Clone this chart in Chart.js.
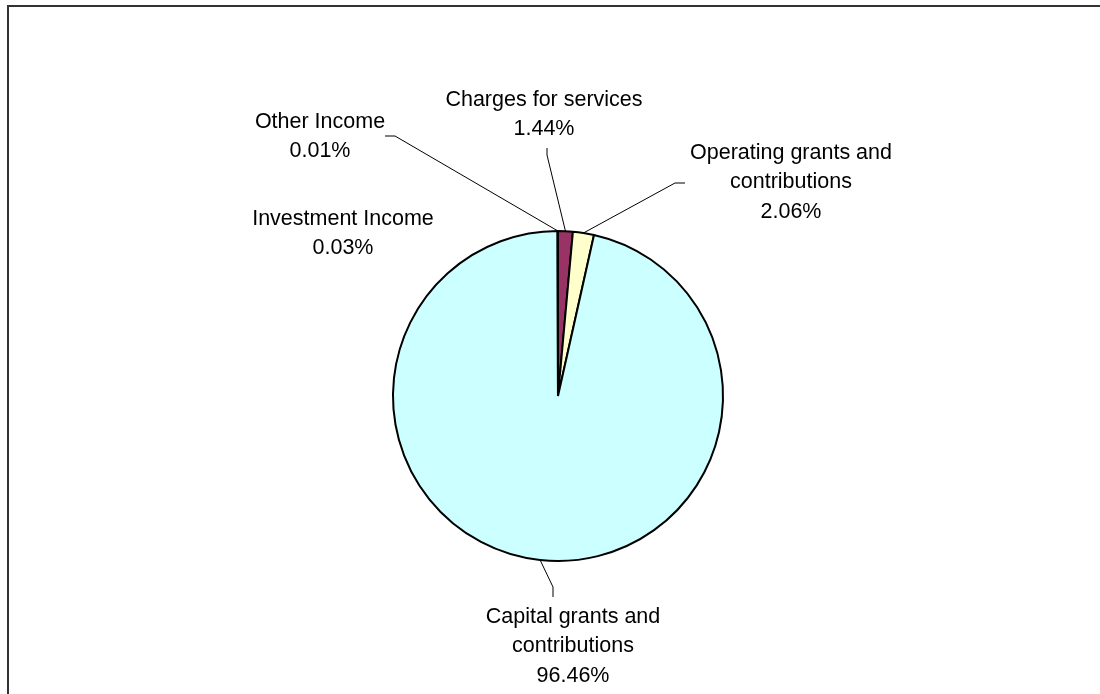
<!DOCTYPE html>
<html>
<head>
<meta charset="utf-8">
<title>Revenue sources</title>
<script src="https://cdn.jsdelivr.net/npm/chart.js@4/dist/chart.umd.min.js"></script>
<style>
  html, body { margin: 0; padding: 0; background: #fff; overflow: hidden; }
  #wrap { position: relative; width: 1100px; height: 694px; }
</style>
</head>
<body>
<div id="wrap"><canvas id="pie" width="1100" height="694"></canvas></div>
<script>
// Revenue breakdown, clockwise from 12 o'clock
const categories = [
  'Charges for services',
  'Operating grants and contributions',
  'Capital grants and contributions',
  'Investment Income',
  'Other Income',
];
const shares = [1.44, 2.06, 96.46, 0.03, 0.01];
const sliceColors = ['#993366', '#FFFFCC', '#CCFFFF', '#660066', '#FF8080'];

// Label text lines per slice (percent appended from the data)
const labelLines = [
  ['Charges for services'],
  ['Operating grants and', 'contributions'],
  ['Capital grants and', 'contributions'],
  ['Investment Income'],
  ['Other Income'],
];

const FONT = "21.5px 'Liberation Sans', Arial, sans-serif";
const LINE_H = 29.5;

// Label block centres (x, first line y) and leader elbows
const labelLayout = [
  { x: 544, y: 100, leader: [[547, 155], [547, 148]] },
  { x: 791, y: 153, leader: [[675, 183], [685, 183]] },
  { x: 573, y: 617, leader: [[553, 587], [553, 597]] },
  { x: 343, y: 219, leader: null },
  { x: 320, y: 122, leader: [[395, 136], [385, 136]] },
];

const frame = {
  id: 'frame',
  beforeDraw(chart) {
    const ctx = chart.ctx;
    ctx.save();
    ctx.strokeStyle = '#333';
    ctx.lineWidth = 2;
    ctx.strokeRect(8, 6, 1300, 900);
    ctx.restore();
  },
};

const pieLabels = {
  id: 'pieLabels',
  afterDatasetsDraw(chart) {
    const ctx = chart.ctx;
    const arcs = chart.getDatasetMeta(0).data;
    ctx.save();
    ctx.font = FONT;
    ctx.fillStyle = '#000';
    ctx.textAlign = 'center';
    ctx.textBaseline = 'middle';
    ctx.strokeStyle = '#000';
    ctx.lineWidth = 1;

    arcs.forEach((arc, i) => {
      const lay = labelLayout[i];
      const lines = labelLines[i].concat(shares[i].toFixed(2) + '%');
      lines.forEach((t, k) => ctx.fillText(t, lay.x, lay.y + k * LINE_H));

      if (lay.leader) {
        const p = arc.getProps(['x', 'y', 'startAngle', 'endAngle', 'outerRadius'], true);
        const mid = (p.startAngle + p.endAngle) / 2;
        ctx.beginPath();
        ctx.moveTo(p.x + Math.cos(mid) * p.outerRadius, p.y + Math.sin(mid) * p.outerRadius);
        lay.leader.forEach(([x, y]) => ctx.lineTo(x, y));
        ctx.stroke();
      }
    });
    ctx.restore();
  },
};

new Chart(document.getElementById('pie'), {
  type: 'pie',
  data: {
    labels: categories,
    datasets: [{
      data: shares,
      backgroundColor: sliceColors,
      borderColor: '#000',
      borderWidth: 2,
    }],
  },
  options: {
    responsive: false,
    animation: false,
    radius: 165,
    layout: { padding: { left: 16, right: 0, top: 98, bottom: 0 } },
    plugins: {
      legend: { display: false },
      tooltip: { enabled: false },
    },
  },
  plugins: [frame, pieLabels],
});
</script>
</body>
</html>
